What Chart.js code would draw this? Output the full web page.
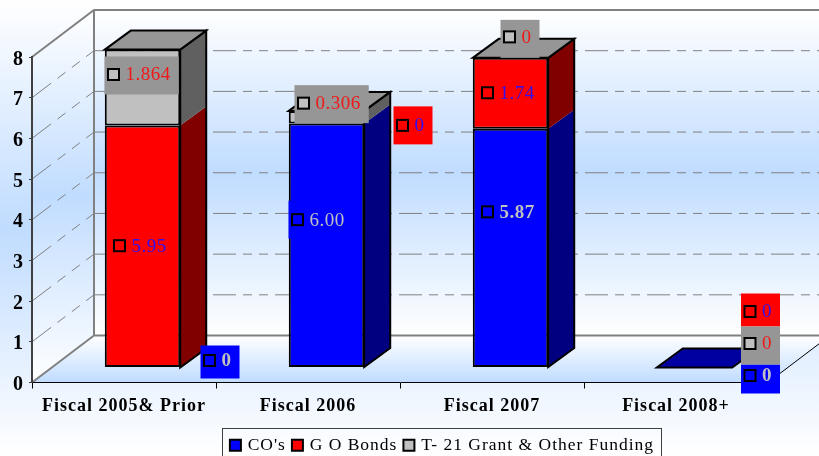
<!DOCTYPE html>
<html>
<head>
<meta charset="utf-8">
<style>
    html, body { margin: 0; padding: 0; background: #fff; }
    canvas { display: block; }
</style>
<script src="https://cdn.jsdelivr.net/npm/chart.js@4"></script>
</head>
<body>
<canvas id="fundingChart" width="819" height="456"></canvas>
<script>
const categories = ['Fiscal 2005& Prior', 'Fiscal 2006', 'Fiscal 2007', 'Fiscal 2008+'];
const seriesNames = ["CO's", 'G O Bonds', 'T- 21 Grant & Other Funding'];
const coValues = [0, 6.00, 5.87, 0];
const goBondValues = [5.95, 0, 1.74, 0];
const grantValues = [1.864, 0.306, 0, 0];
const labelTexts = [
    ['0', '6.00', '5.87', '0'],
    ['5.95', '0', '1.74', '0'],
    ['1.864', '0.306', '0', '0']
];
const tickValues = [0, 1, 2, 3, 4, 5, 6, 7, 8];

const FONT = '"Liberation Serif", serif';
const WALL = { x: 62, y: -47 };      // floor depth, front edge to back wall
const BAR_SHIFT = { x: 18.5, y: -15 }; // bars stand part way back on the floor
const BAR_DEPTH = { x: 26, y: -19 };

const fronts = ['#0000ff', '#ff0000', '#c0c0c0'];
const sides = ['#000080', '#800000', '#606060'];
const tops = ['#0000a0', '#a00000', '#969696'];
const labelBoxes = ['#0000ff', '#ff0000', '#969696'];
const labelInks = ['#c0c0c0', '#3010f0', '#f01818'];

// box left from bar centre, box centre from segment centre, box height, key nudge, bold
const labelPlaces = [
    [[58, -5.5, 33, -1.5, true], [-38, -25.5, 38, 0, false], [-32, -36, 38, 0, true], [46.5, 11.5, 29, -3.5, true]],
    [[-32, -0.5, 38, 0, false], [67, 2, 38, 0, false], [-32, -0.5, 38, 0, false], [46.5, -57.5, 33, 1.5, false]],
    [[-38, -12, 38, -1, false], [-32, -13, 38, -1, false], [-10, -19, 38, -2, false], [46.5, -22, 38, -2, false]]
];

function fillPoly(ctx, points, fill, stroke, width) {
    ctx.beginPath();
    points.forEach((p, i) => i ? ctx.lineTo(p[0], p[1]) : ctx.moveTo(p[0], p[1]));
    ctx.closePath();
    if (fill) {
        ctx.fillStyle = fill;
        ctx.fill();
    }
    if (stroke) {
        ctx.strokeStyle = stroke;
        ctx.lineWidth = width;
        ctx.lineJoin = 'miter';
        ctx.stroke();
    }
}

function softBand(ctx, y0, y1) {
    const g = ctx.createLinearGradient(0, y0, 0, y1);
    g.addColorStop(0, '#ffffff');
    g.addColorStop(0.5, '#c0dcff');
    g.addColorStop(1, '#ffffff');
    return g;
}

function drawRoom(chart) {
    const { ctx, width, height, scales: { x, y } } = chart;
    const left = x.left, right = x.right + WALL.x;
    const y0 = y.getPixelForValue(0), y8 = y.getPixelForValue(8);
    const backX = left + WALL.x;

    ctx.fillStyle = softBand(ctx, 0, height);
    ctx.fillRect(0, 0, width, height);

    // side wall, back wall, floor
    fillPoly(ctx, [[left, y8], [backX, y8 + WALL.y], [backX, y0 + WALL.y], [left, y0]], softBand(ctx, y8 + WALL.y, y0));
    fillPoly(ctx, [[backX, y8 + WALL.y], [right, y8 + WALL.y], [right, y0 + WALL.y], [backX, y0 + WALL.y]], softBand(ctx, y8 + WALL.y, y0 + WALL.y));
    const floor = ctx.createLinearGradient(0, y0 + WALL.y, 0, y0);
    floor.addColorStop(0, '#ffffff');
    floor.addColorStop(1, '#c0dcff');
    fillPoly(ctx, [[backX, y0 + WALL.y], [right, y0 + WALL.y], [x.right, y0], [left, y0]], floor);

    // dashed grid on both walls
    ctx.save();
    ctx.strokeStyle = '#808080';
    ctx.lineWidth = 1;
    ctx.setLineDash([23, 7, 9, 7, 9, 7]);
    ctx.lineDashOffset = 5;
    tickValues.slice(1, -1).forEach(v => {
        const py = y.getPixelForValue(v);
        ctx.beginPath();
        ctx.moveTo(backX, py + WALL.y);
        ctx.lineTo(right, py + WALL.y);
        ctx.stroke();
    });
    ctx.lineDashOffset = 0;
    ctx.setLineDash([24, 8, 10, 8, 10, 8]);
    tickValues.slice(1, -1).forEach(v => {
        const py = y.getPixelForValue(v);
        ctx.beginPath();
        ctx.moveTo(left, py);
        ctx.lineTo(backX, py + WALL.y);
        ctx.stroke();
    });
    ctx.restore();

    // room edges
    ctx.strokeStyle = '#808080';
    ctx.lineWidth = 2;
    ctx.beginPath();
    ctx.moveTo(left, y8);
    ctx.lineTo(backX, y8 + WALL.y);
    ctx.lineTo(right, y8 + WALL.y);
    ctx.moveTo(backX, y8 + WALL.y);
    ctx.lineTo(backX, y0 + WALL.y);
    ctx.lineTo(right, y0 + WALL.y);
    ctx.moveTo(backX, y0 + WALL.y);
    ctx.lineTo(left, y0);
    ctx.stroke();
    ctx.strokeStyle = '#000000';
    ctx.lineWidth = 1;
    ctx.beginPath();
    ctx.moveTo(x.right, y0);
    ctx.lineTo(right, y0 + WALL.y);
    ctx.stroke();
}

function drawBarSides(chart) {
    const { ctx } = chart;
    const dx = BAR_DEPTH.x, dy = BAR_DEPTH.y;
    categories.forEach((c, i) => {
        const bars = chart.data.datasets.map((d, k) => chart.getDatasetMeta(k).data[i]);
        const top = bars[bars.length - 1];
        const half = top.width / 2;
        const x1 = top.x - half, x2 = top.x + half;
        const base = bars[0].base, yTop = top.y;

        bars.forEach((bar, k) => {
            if (bar.base - bar.y < 0.5) return;
            fillPoly(ctx, [[x2, bar.y], [x2 + dx, bar.y + dy], [x2 + dx, bar.base + dy], [x2, bar.base]], sides[k]);
        });
        if (base - yTop > 0.5) {
            fillPoly(ctx, [[x2, yTop], [x2 + dx, yTop + dy], [x2 + dx, base + dy], [x2, base]], null, '#000000', 2);
        }
        // an empty stack shows its first series on the lid
        const lid = base - yTop > 0.5 ? tops[tops.length - 1] : tops[0];
        fillPoly(ctx, [[x1, yTop], [x1 + dx, yTop + dy], [x2 + dx, yTop + dy], [x2, yTop]], lid, '#000000', 2);
    });
}

function drawValueLabels(chart) {
    const { ctx } = chart;
    ctx.save();
    ctx.letterSpacing = '0.5px';
    chart.data.datasets.forEach((d, k) => {
        chart.getDatasetMeta(k).data.forEach((bar, i) => {
            const [dx, dy, h, nudge, bold] = labelPlaces[k][i];
            const text = labelTexts[k][i];
            ctx.font = (bold ? 'bold ' : '') + '19px ' + FONT;
            const boxW = 21 + ctx.measureText(text).width + 8;
            const cx = bar.x + BAR_SHIFT.x;
            const cy = (bar.y + bar.base) / 2 + BAR_SHIFT.y + dy;
            const left = cx + dx;
            ctx.fillStyle = labelBoxes[k];
            ctx.fillRect(left, cy - h / 2, boxW, h);
            ctx.fillStyle = fronts[k];
            ctx.strokeStyle = '#000000';
            ctx.lineWidth = 2;
            ctx.fillRect(left + 3.5, cy + nudge - 5.5, 11, 11);
            ctx.strokeRect(left + 3.5, cy + nudge - 5.5, 11, 11);
            ctx.fillStyle = labelInks[k];
            ctx.textAlign = 'left';
            ctx.textBaseline = 'middle';
            ctx.fillText(text, left + 21, cy + nudge + 1);
        });
    });
    ctx.restore();
}

const roomPlugin = {
    id: 'room',
    beforeUpdate(chart) {
        chart.ctx.letterSpacing = '1px';
    },
    afterLayout(chart) {
        // legend sits right of the page centre and hangs off the bottom edge
        chart.legend.left += 59;
        chart.legend.right += 59;
        chart.legend.top += 8;
        chart.legend.bottom += 8;
    },
    beforeDatasetsDraw(chart) {
        const { ctx } = chart;
        ctx.save();
        ctx.translate(BAR_SHIFT.x, BAR_SHIFT.y);
        drawBarSides(chart);
    },
    afterDatasetsDraw(chart) {
        chart.ctx.restore();
        drawValueLabels(chart);
    },
    beforeDraw(chart) {
        chart.ctx.letterSpacing = '1px';
        drawRoom(chart);
        // digits sit a little lower than the canvas middle baseline
        chart.scales.y.getLabelItems(chart.chartArea).forEach(item => { item.textOffset = 2.5; });
    },
    afterDraw(chart) {
        const { ctx, legend } = chart;
        const boxes = legend.legendHitBoxes;
        const last = boxes[boxes.length - 1];
        ctx.save();
        ctx.strokeStyle = '#404040';
        ctx.lineWidth = 1;
        ctx.strokeRect(Math.round(boxes[0].left) - 9.5, 428.5, Math.round(last.left + last.width - boxes[0].left) + 17, 40);
        ctx.restore();
    }
};

const datasets = [coValues, goBondValues, grantValues].map((values, k) => ({
    label: seriesNames[k],
    data: values,
    backgroundColor: fronts[k],
    borderColor: '#000000',
    borderWidth: 2,
    borderSkipped: false,
    categoryPercentage: 1,
    barPercentage: 0.41,
    clip: false
}));

new Chart(document.getElementById('fundingChart').getContext('2d'), {
    type: 'bar',
    data: { labels: categories, datasets: datasets },
    plugins: [roomPlugin],
    options: {
        responsive: false,
        animation: false,
        layout: { padding: { top: 57, right: 51, left: 0, bottom: 0 } },
        plugins: {
            tooltip: { enabled: false },
            legend: {
                position: 'bottom',
                labels: {
                    usePointStyle: true,
                    pointStyle: 'rect',
                    boxWidth: 7,
                    boxHeight: 11,
                    padding: 8,
                    color: '#000000',
                    font: { family: FONT, size: 17.5 }
                }
            }
        },
        scales: {
            x: {
                stacked: true,
                afterFit: scale => { scale.height = 38; },
                grid: { drawOnChartArea: false, tickLength: 6, color: '#000000' },
                border: { color: '#000000', width: 1 },
                ticks: {
                    color: '#000000',
                    maxRotation: 0,
                    padding: 7,
                    font: { family: FONT, size: 18, weight: 'bold' }
                }
            },
            y: {
                stacked: true,
                min: 0,
                max: 8,
                afterFit: scale => { scale.width = 32; },
                afterBuildTicks: scale => { scale.ticks = tickValues.map(v => ({ value: v })); },
                grid: { drawOnChartArea: false, tickLength: 3, color: '#404040' },
                border: { color: '#404040', width: 2 },
                ticks: {
                    color: '#000000',
                    padding: 5,
                    font: { family: FONT, size: 20, weight: 'bold' }
                }
            }
        }
    }
});
</script>
</body>
</html>
